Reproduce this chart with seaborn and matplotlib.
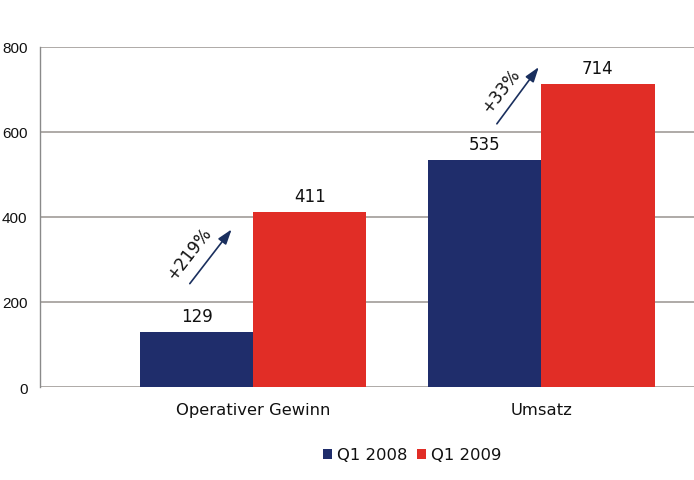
import matplotlib
matplotlib.use("Agg")
import matplotlib.pyplot as plt
import seaborn as sns
import pandas as pd
from matplotlib.patches import Patch

categories = ["Operativer Gewinn", "Umsatz"]
series = ["Q1 2008", "Q1 2009"]
q1_2008 = [129, 535]
q1_2009 = [411, 714]
changes = ["+219%", "+33%"]
yticks = [0, 200, 400, 600, 800]

colors = {"Q1 2008": "#1f2d6b", "Q1 2009": "#e12d26"}

df = pd.DataFrame({
    "Kategorie": categories * 2,
    "Serie": [series[0]] * 2 + [series[1]] * 2,
    "Wert": q1_2008 + q1_2009,
})

sns.set_style("white")
plt.rcParams["font.family"] = ["DejaVu Sans"]

fig = plt.figure(figsize=(6.94, 4.81), dpi=100)
ax = fig.add_axes([40 / 694, 1 - 388 / 481, 654 / 694, 340 / 481])

sns.barplot(data=df, x="Kategorie", y="Wert", hue="Serie", palette=colors,
            width=0.786, ax=ax, legend=False, saturation=1, linewidth=0)

ax.set_ylim(0, 800)
ax.set_xlim(-0.74, 1.53)
ax.set_yticks(yticks)
ax.set_yticklabels([str(t) for t in yticks], fontsize=11, family="Liberation Sans",
                   color="#111111")
ax.yaxis.grid(True, color="#a8a4a0", linewidth=1.3)
ax.set_axisbelow(True)
for s in ["top", "right", "bottom"]:
    ax.spines[s].set_visible(False)
ax.spines["left"].set_color("#8a8a8a")
ax.spines["left"].set_linewidth(1.0)
ax.tick_params(axis="y", length=5, color="#8a8a8a", width=1.0, pad=4)
ax.tick_params(axis="x", length=0, pad=11, labelsize=11.8, labelcolor="#111111")
ax.set_xlabel("")
ax.set_ylabel("")

# value labels
for cont in ax.containers:
    ax.bar_label(cont, padding=5, fontsize=12, color="#111111")

# growth arrows
arrow_specs = [((-0.226, 238), (-0.069, 376), (-0.222, 315)),
               ((0.84, 614), (0.997, 758), (0.861, 699))]
for (start, end, tpos), label in zip(arrow_specs, changes):
    ax.annotate("", xy=end, xytext=start,
                arrowprops=dict(arrowstyle="-|>,head_length=0.9,head_width=0.3",
                                color="#1a2f5e", lw=1.2))
    ax.text(tpos[0], tpos[1], label, rotation=52, ha="center", va="center",
            fontsize=12, color="#111111", rotation_mode="anchor")

handles = [Patch(facecolor=colors[s], edgecolor="none") for s in series]
fig.legend(handles, series, loc="center", bbox_to_anchor=(412 / 694, 1 - 456 / 481),
           ncol=2, frameon=False, fontsize=11.8, handlelength=0.55, handleheight=0.55,
           handletextpad=0.3, columnspacing=0.6, labelcolor="#111111")

fig.savefig("out.png", dpi=100)
